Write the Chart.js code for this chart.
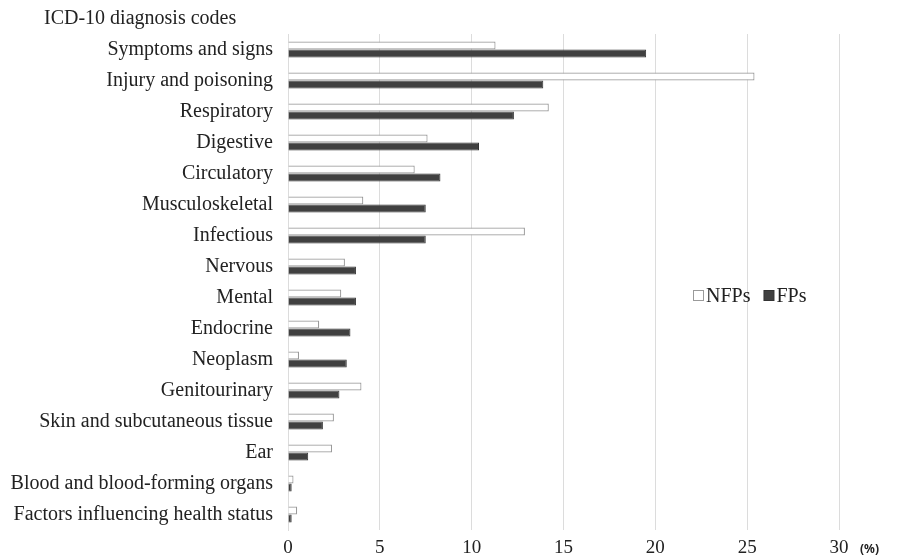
<!DOCTYPE html>
<html>
<head>
<meta charset="utf-8">
<script src="https://cdn.jsdelivr.net/npm/chart.js@4/dist/chart.umd.min.js"></script>
<style>
  html, body { margin: 0; padding: 0; background: #ffffff; }
  #wrap { position: relative; width: 898px; height: 558px; }
</style>
</head>
<body>
<div id="wrap"><canvas id="c" width="898" height="558"></canvas></div>
<script>
const categories = [
  "Symptoms and signs",
  "Injury and poisoning",
  "Respiratory",
  "Digestive",
  "Circulatory",
  "Musculoskeletal",
  "Infectious",
  "Nervous",
  "Mental",
  "Endocrine",
  "Neoplasm",
  "Genitourinary",
  "Skin and subcutaneous tissue",
  "Ear",
  "Blood and blood-forming organs",
  "Factors influencing health status"
];
const nfpValues = [11.3, 25.4, 14.2, 7.6, 6.9, 4.1, 12.9, 3.1, 2.9, 1.7, 0.6, 4.0, 2.5, 2.4, 0.3, 0.5];
const fpValues  = [19.5, 13.9, 12.3, 10.4, 8.3, 7.5, 7.5, 3.7, 3.7, 3.4, 3.2, 2.8, 1.9, 1.1, 0.2, 0.2];
const xTicks = [0, 5, 10, 15, 20, 25, 30];
const seriesNames = ["NFPs", "FPs"];
const axisTitle = "ICD-10 diagnosis codes";
const unitLabel = "(%)";

const SERIF = '"Liberation Serif", "Times New Roman", serif';

const overlay = {
  id: 'overlay',
  afterDraw(chart) {
    const ctx = chart.ctx;
    ctx.save();
    // axis title
    ctx.fillStyle = '#222';
    ctx.font = '20px ' + SERIF;
    ctx.textBaseline = 'middle';
    ctx.textAlign = 'left';
    ctx.fillText(axisTitle, 44, 19);
    // unit label
    ctx.font = 'bold 12px "Noto Sans", sans-serif';
    ctx.fillText(unitLabel, 860, 550);
    // legend
    const ds = chart.data.datasets;
    let x = 693, y = 297;
    ctx.font = '20px ' + SERIF;
    ds.forEach((d, i) => {
      ctx.fillStyle = d.backgroundColor;
      ctx.strokeStyle = d.borderColor;
      ctx.lineWidth = 1;
      ctx.fillRect(x + 0.5, y - 6.5, 10, 10);
      ctx.strokeRect(x + 0.5, y - 6.5, 10, 10);
      ctx.fillStyle = '#222';
      ctx.fillText(d.label, x + 13, y);
      x += 13 + ctx.measureText(d.label).width + 13;
    });
    ctx.restore();
  }
};

new Chart(document.getElementById('c'), {
  type: 'bar',
  data: {
    labels: categories,
    datasets: [
      { label: seriesNames[0], data: nfpValues, backgroundColor: '#ffffff', borderColor: '#9a9a9a', borderWidth: 1.2, categoryPercentage: 0.52, barPercentage: 1.0 },
      { label: seriesNames[1], data: fpValues, backgroundColor: '#404040', borderColor: '#333333', borderWidth: 1, categoryPercentage: 0.52, barPercentage: 1.0 }
    ]
  },
  options: {
    indexAxis: 'y',
    responsive: false,
    animation: false,
    layout: { padding: { left: 0, right: 59, top: 34, bottom: 0 } },
    plugins: { legend: { display: false }, tooltip: { enabled: false }, title: { display: false } },
    scales: {
      x: {
        min: 0, max: 30,
        afterBuildTicks(scale) { scale.ticks = xTicks.map(v => ({ value: v })); },
        afterFit(scale) { scale.height = 28; },
        grid: { color: '#dcdcdc', lineWidth: 1, drawTicks: false },
        border: { display: false },
        ticks: { color: '#222', font: { family: SERIF, size: 19 }, padding: 7 }
      },
      y: {
        afterFit(scale) { scale.width = 288; },
        grid: { display: false, drawTicks: false },
        border: { display: true, color: '#dcdcdc', width: 1 },
        ticks: { color: '#222', font: { family: SERIF, size: 20 }, padding: 15, autoSkip: false }
      }
    }
  },
  plugins: [overlay]
});
</script>
</body>
</html>
